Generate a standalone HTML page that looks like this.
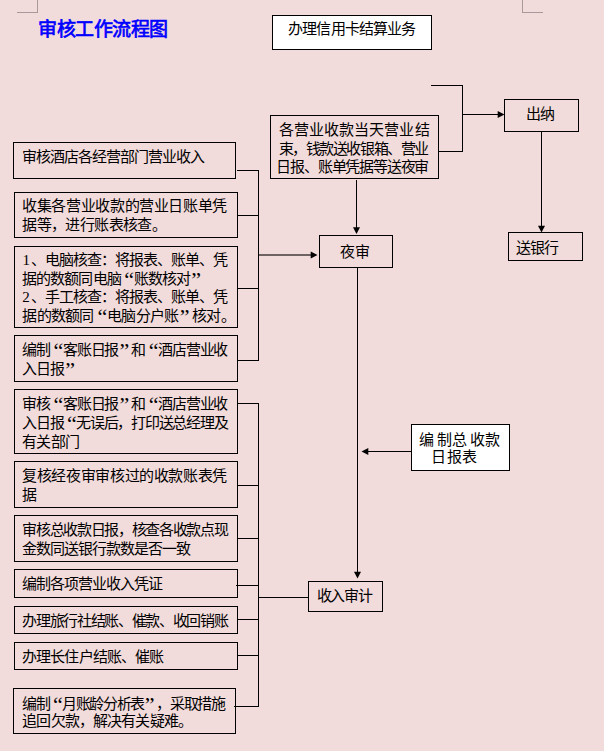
<!DOCTYPE html>
<html lang="zh-CN"><head><meta charset="utf-8"><style>
html,body{margin:0;padding:0;}
body{width:604px;height:751px;background:#F2DBDB;position:relative;overflow:hidden;font-family:"Liberation Sans",sans-serif;}
svg{position:absolute;left:0;top:0;}
.t{position:absolute;font-size:15px;line-height:18px;white-space:nowrap;color:#000;letter-spacing:var(--ls);}
.qo,.qc{display:inline-block;width:14px;letter-spacing:0;margin-right:var(--ls);font-family:"Liberation Serif",serif;font-size:22px;line-height:0;position:relative;top:3px;text-align:center;}
.qo{padding-left:3px;box-sizing:border-box;}
.qc{padding-right:2px;box-sizing:border-box;}
.dg{font-family:"Liberation Serif",serif;margin-right:2px;}
.title{position:absolute;left:38px;top:19px;font-size:19px;line-height:22px;letter-spacing:-0.5px;font-weight:normal;-webkit-text-stroke:0.7px #0000FF;color:#0000FF;white-space:nowrap;}
</style></head><body>
<svg width="604" height="751" viewBox="0 0 604 751" shape-rendering="crispEdges">
<rect x="17" y="12" width="21" height="1" fill="#A89A9A"/>
<rect x="37" y="0" width="1" height="13" fill="#A89A9A"/>
<rect x="522" y="0" width="1" height="13" fill="#A89A9A"/>
<rect x="522" y="12" width="21" height="1" fill="#A89A9A"/>
<rect x="431" y="85" width="32" height="1" fill="#000"/>
<rect x="462" y="85" width="1" height="67" fill="#000"/>
<rect x="438" y="151" width="25" height="1" fill="#000"/>
<rect x="462" y="114" width="37" height="1" fill="#000"/>
<rect x="541" y="131" width="1" height="97" fill="#000"/>
<rect x="356" y="180" width="1" height="49" fill="#000"/>
<rect x="258" y="254" width="54" height="2" fill="#000" fill-opacity="0.55"/>
<rect x="357" y="267" width="1" height="306" fill="#000"/>
<rect x="368" y="451" width="44" height="1" fill="#000"/>
<rect x="258" y="597" width="50" height="1" fill="#000"/>
<rect x="237" y="170" width="22" height="1" fill="#000"/>
<rect x="237" y="215" width="22" height="1" fill="#000"/>
<rect x="237" y="288" width="22" height="1" fill="#000"/>
<rect x="237" y="360" width="22" height="1" fill="#000"/>
<rect x="258" y="170" width="1" height="191" fill="#000"/>
<rect x="237" y="403" width="22" height="1" fill="#000"/>
<rect x="237" y="485" width="22" height="1" fill="#000"/>
<rect x="237" y="538" width="22" height="1" fill="#000"/>
<rect x="236" y="585" width="23" height="1" fill="#000"/>
<rect x="237" y="619" width="22" height="1" fill="#000"/>
<rect x="237" y="655" width="22" height="1" fill="#000"/>
<rect x="234" y="706" width="25" height="1" fill="#000"/>
<rect x="258" y="403" width="1" height="304" fill="#000"/>
<rect x="272.5" y="15.5" width="159" height="34" fill="#FFFFFF" stroke="#000" stroke-width="1"/>
<rect x="270.5" y="115.5" width="168" height="63" fill="none" stroke="#000" stroke-width="1"/>
<rect x="504.5" y="99.5" width="74" height="32" fill="none" stroke="#000" stroke-width="1"/>
<rect x="508.5" y="232.5" width="74" height="28" fill="none" stroke="#000" stroke-width="1"/>
<rect x="319.5" y="235.5" width="73" height="32" fill="none" stroke="#000" stroke-width="1"/>
<rect x="411.5" y="424.5" width="98" height="46" fill="#FFFFFF" stroke="#000" stroke-width="1"/>
<rect x="308.5" y="581.5" width="74" height="30" fill="none" stroke="#000" stroke-width="1"/>
<rect x="13.5" y="142.5" width="222" height="36" fill="none" stroke="#000" stroke-width="1"/>
<rect x="14.5" y="192.5" width="223" height="45" fill="none" stroke="#000" stroke-width="1"/>
<rect x="14.5" y="246.5" width="223" height="81" fill="none" stroke="#000" stroke-width="1"/>
<rect x="14.5" y="335.5" width="223" height="46" fill="none" stroke="#000" stroke-width="1"/>
<rect x="14.5" y="389.5" width="223" height="64" fill="none" stroke="#000" stroke-width="1"/>
<rect x="14.5" y="461.5" width="223" height="46" fill="none" stroke="#000" stroke-width="1"/>
<rect x="14.5" y="515.5" width="223" height="46" fill="none" stroke="#000" stroke-width="1"/>
<rect x="14.5" y="569.5" width="223" height="28" fill="none" stroke="#000" stroke-width="1"/>
<rect x="14.5" y="606.5" width="223" height="27" fill="none" stroke="#000" stroke-width="1"/>
<rect x="14.5" y="642.5" width="223" height="27" fill="none" stroke="#000" stroke-width="1"/>
<rect x="13.5" y="688.5" width="222" height="45" fill="none" stroke="#000" stroke-width="1"/>
<polygon points="504.5,114.5 497.7,111.0 497.7,118.0" fill="#000" shape-rendering="geometricPrecision"/>
<polygon points="541.5,232.5 538.0,225.7 545.0,225.7" fill="#000" shape-rendering="geometricPrecision"/>
<polygon points="356.5,234 353.0,227.2 360.0,227.2" fill="#000" shape-rendering="geometricPrecision"/>
<polygon points="317.5,255 310.7,251.5 310.7,258.5" fill="#000" shape-rendering="geometricPrecision"/>
<polygon points="357.5,578.5 354.0,571.7 361.0,571.7" fill="#000" shape-rendering="geometricPrecision"/>
<polygon points="361.5,451.5 368.3,448.0 368.3,455.0" fill="#000" shape-rendering="geometricPrecision"/>
</svg>
<div class="title">审核工作流程图</div>
<div class="t" style="left:22.20px;top:148.00px;--ls:-1.000px">审核酒店各经营部门营业收入</div>
<div class="t" style="left:22.20px;top:197.00px;--ls:-0.377px">收集各营业收款的营业日账单凭</div>
<div class="t" style="left:22.20px;top:216.00px;--ls:-0.600px">据等，进行账表核查。</div>
<div class="t" style="left:22.40px;top:251.00px;--ls:-1.000px"><span class="dg">1</span>、电脑核查：将报表、账单、凭</div>
<div class="t" style="left:22.20px;top:269.50px;--ls:-0.925px">据的数额同电脑<span class="qo">“</span>账数核对<span class="qc">”</span></div>
<div class="t" style="left:22.20px;top:288.00px;--ls:-1.000px"><span class="dg">2</span>、手工核查：将报表、账单、凭</div>
<div class="t" style="left:22.20px;top:307.00px;--ls:-0.679px">据的数额同<span class="qo">“</span>电脑分户账<span class="qc">”</span>核对。</div>
<div class="t" style="left:22.20px;top:341.00px;--ls:-1.129px">编制<span class="qo">“</span>客账日报<span class="qc">”</span>和<span class="qo">“</span>酒店营业收</div>
<div class="t" style="left:22.20px;top:360.00px;--ls:-1.000px">入日报<span class="qc">”</span></div>
<div class="t" style="left:22.20px;top:395.00px;--ls:-1.129px">审核<span class="qo">“</span>客账日报<span class="qc">”</span>和<span class="qo">“</span>酒店营业收</div>
<div class="t" style="left:22.20px;top:414.00px;--ls:-1.257px">入日报<span class="qo">“</span>无误后，打印送总经理及</div>
<div class="t" style="left:22.20px;top:433.00px;--ls:-0.700px">有关部门</div>
<div class="t" style="left:22.20px;top:467.00px;--ls:-0.377px">复核经夜审审核过的收款账表凭</div>
<div class="t" style="left:22.20px;top:486.00px;--ls:-1.000px">据</div>
<div class="t" style="left:22.20px;top:521.00px;--ls:-1.321px">审核总收款日报，核查各收款点现</div>
<div class="t" style="left:22.20px;top:539.50px;--ls:-1.000px">金数同送银行款数是否一致</div>
<div class="t" style="left:22.20px;top:575.00px;--ls:-1.000px">编制各项营业收入凭证</div>
<div class="t" style="left:22.20px;top:612.00px;--ls:-1.321px">办理旅行社结账、催款、收回销账</div>
<div class="t" style="left:22.20px;top:648.00px;--ls:-0.900px">办理长住户结账、催账</div>
<div class="t" style="left:22.20px;top:695.00px;--ls:-1.386px">编制<span class="qo">“</span>月账龄分析表<span class="qc">”</span>，采取措施</div>
<div class="t" style="left:22.20px;top:712.00px;--ls:-0.840px">追回欠款，解决有关疑难。</div>
<div class="t" style="left:278.70px;top:121.00px;--ls:0.100px">各营业收款当天营业结</div>
<div class="t" style="left:278.70px;top:139.50px;--ls:-1.450px">束，钱款送收银箱、营业</div>
<div class="t" style="left:276.30px;top:157.50px;--ls:-1.180px">日报、账单凭据等送夜审</div>
<div class="t" style="left:288.20px;top:20.00px;--ls:-0.887px">办理信用卡结算业务</div>
<div class="t" style="left:525.70px;top:105.00px;--ls:-1.000px">出纳</div>
<div class="t" style="left:515.70px;top:239.00px;--ls:-1.000px">送银行</div>
<div class="t" style="left:340.20px;top:243.00px;--ls:-0.100px">夜审</div>
<div class="t" style="left:316.70px;top:587.00px;--ls:-1.300px">收入审计</div>
<div class="t" style="left:419.20px;top:430.50px;--ls:-1.000px">编<span style="margin-right:3.7px"></span>制<span style="margin-right:1.3px"></span>总<span style="margin-right:3.8px"></span>收<span style="margin-right:0.9px"></span>款</div>
<div class="t" style="left:431.30px;top:448.00px;--ls:0.350px">日报表</div>
</body></html>
